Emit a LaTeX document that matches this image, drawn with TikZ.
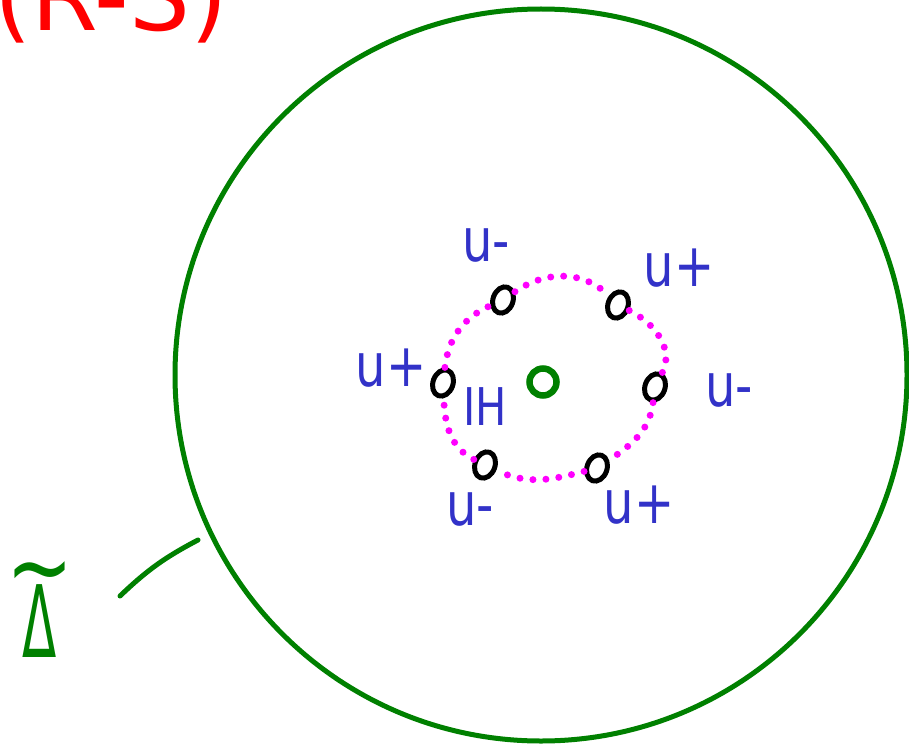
\documentclass[tikz,border=0pt]{standalone}
\usepackage{fontspec}
\setmainfont{DejaVu Sans}
\newfontfamily\handfont[FakeStretch=0.8]{DejaVu Sans}
\newfontfamily\deltafont[FakeStretch=0.5]{DejaVu Sans}
\usepackage{tikz}
\usetikzlibrary{shapes.geometric}
\definecolor{leaf}{RGB}{0,128,0}
\definecolor{ink}{RGB}{50,50,200}
\definecolor{pink}{RGB}{255,0,255}
\definecolor{tomato}{RGB}{255,0,0}
\tikzset{
  pen/.style={draw=leaf,line width=5pt,line cap=round},
  sing/.style={ellipse,draw=black,line width=5pt,minimum width=20pt,
               minimum height=27pt,inner sep=0pt,rotate=-20},
  ring/.style={draw=pink,line width=7pt,line cap=round,dash pattern=on 0pt off 13pt},
  tag/.style={text=ink,inner sep=0pt,font=\handfont\fontsize{60}{60}\selectfont}
}

\begin{document}
\begin{tikzpicture}[x=1pt,y=-1pt]
  \clip (0,0) rectangle (909,746);
  \node[anchor=base west,inner sep=0pt,text=tomato,font=\fontsize{96}{96}\selectfont] (title) at (-6,31) {(R-S)};
  % the big disc and its centre
  \draw[pen] (541,375) circle[radius=366];
  \node[circle,draw=leaf,line width=6.5pt,minimum size=27pt,inner sep=0pt] (c) at (543,382) {};
  % the six points
  \node[sing] (m1) at (503,300) {};
  \node[sing] (p1) at (618,305) {};
  \node[sing] (p2) at (443,383) {};
  \node[sing] (m2) at (655,387) {};
  \node[sing] (m3) at (485,465) {};
  \node[sing] (p3) at (597,468) {};
  \draw[ring] (m1) to[out=40,in=140] (p1);
  \draw[ring] (p1) to[out=-20,in=70] (m2);
  \draw[ring] (m2) to[out=-90,in=40] (p3);
  \draw[ring] (p3) to[out=-160,in=-20] (m3);
  \draw[ring] (m3) to[out=160,in=-80] (p2);
  \draw[ring] (p2) to[out=90,in=-150] (m1);
  % labels
  \node[tag] (lm1) at (486,245) {u-};
  \node[tag] (lp1) at (679,268) {u+};
  \node[tag] (lp2) at (391,368) {u+};
  \node[tag] (lm2) at (729,390) {u-};
  \node[tag,font=\handfont\fontsize{52}{52}\selectfont] (lh) at (485,407) {IH};
  \node[tag] (lm3) at (470,509) {u-};
  \node[tag] (lp3) at (639,505) {u+};
  % the boundary name
  \node[text=leaf,inner sep=0pt,align=center,anchor=south,font=\fontsize{100}{100}\selectfont] (delta) at (40,658)
    {{\handfont\fontsize{100}{100}\selectfont\textasciitilde}\\[-44pt]{\deltafont Δ}\hspace{52pt}};
  \coordinate (tip a) at (120,596);
  \coordinate (tip b) at (198,540);
  \draw[pen] (tip a) to[bend left=8] (tip b);
\end{tikzpicture}
\end{document}
